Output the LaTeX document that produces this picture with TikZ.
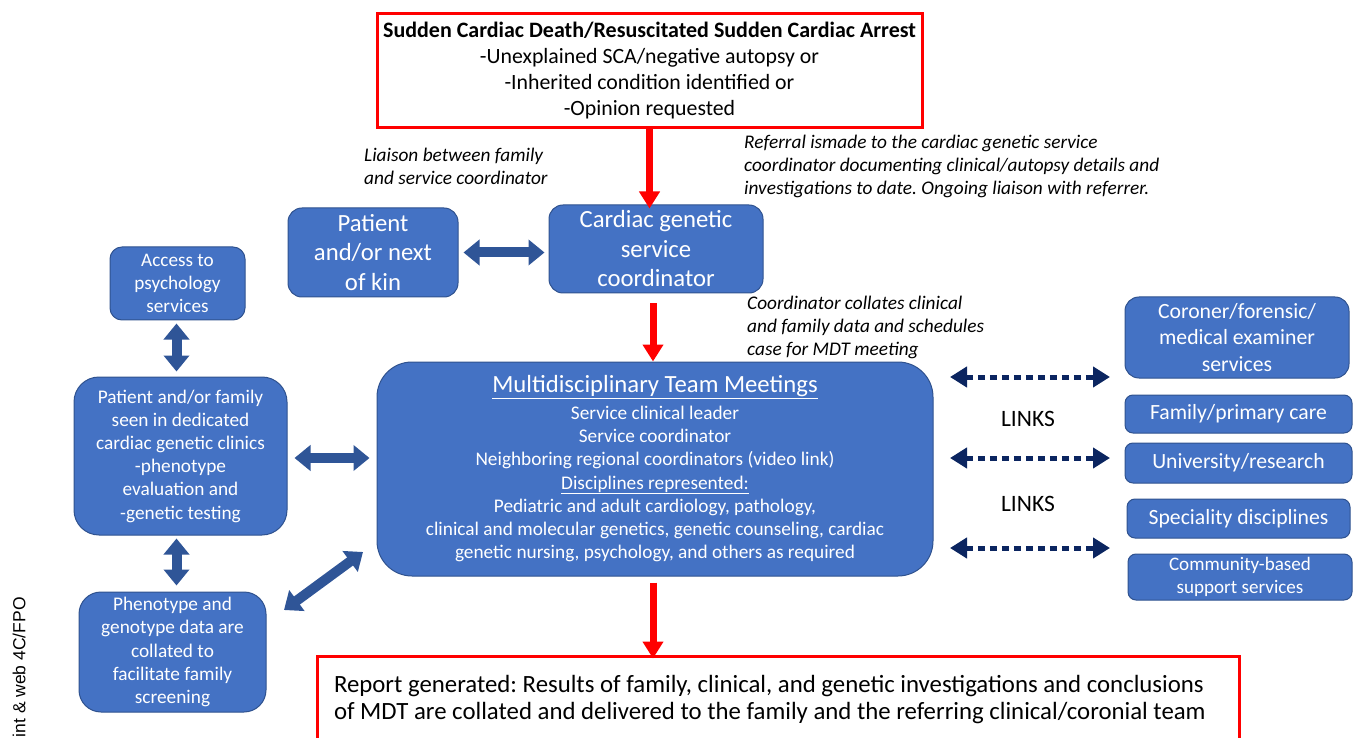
\documentclass[tikz,border=0pt]{standalone}
\usepackage{fontspec}
\setmainfont{Carlito}
\newfontfamily\sidefont{Liberation Sans}
\usetikzlibrary{arrows.meta}
\definecolor{boxc}{HTML}{4472C4}
\definecolor{bordc}{HTML}{2F528F}
\definecolor{arrc}{HTML}{2F5597}
\definecolor{navyc}{HTML}{0B2560}
\newcommand{\fsz}[2]{\fontsize{#1}{#2}\selectfont}
\begin{document}
\frenchspacing
\begin{tikzpicture}[x=1pt,y=-1pt,
  bbox/.style={draw=bordc, fill=boxc, text=white, align=center, line width=1pt, inner sep=0pt, rounded corners=#1},
  bbox/.default=12pt,
  redbox/.style={draw=red, line width=3pt, inner sep=0pt},
  redarrow/.style={draw=red, line width=7pt, -{Triangle[length=17pt,width=20pt]}},
  bluearrow/.style={draw=arrc, line width=10pt, {Triangle[length=16pt,width=25pt]}-{Triangle[length=16pt,width=25pt]}},
  dotarrow/.style={draw=navyc, line width=5pt, dash pattern=on 7.5pt off 4.5pt, {Triangle[length=17pt,width=20pt]}-{Triangle[length=17pt,width=20pt]}},
  note/.style={font=\fsz{19.3}{23}\itshape, align=left, inner sep=0pt, anchor=west},
]
\useasboundingbox (0,0) rectangle (1353,738);
\clip (0,0) rectangle (1353,738);

% top red box
\node[redbox, minimum width=545pt, minimum height=114pt, align=center, font=\fsz{21.8}{26}] (top) at (649.5,71)
  {{\fsz{22}{26}\textbf{Sudden Cardiac Death/Resuscitated Sudden Cardiac Arrest}}\\-Unexplained SCA/negative autopsy or\\-Inherited condition identified or\\-Opinion requested};

% notes
\node[note] (liaison) at (364,166) {Liaison between family\\and service coordinator};
\node[note] (referral) at (744,166) {Referral ismade to the cardiac genetic service\\coordinator documenting clinical/autopsy details and\\investigations to date. Ongoing liaison with referrer.};
\node[note] (collates) at (747,327) {Coordinator collates clinical\\and family data and schedules\\case for MDT meeting};

% upper boxes
\node[bbox=14pt, minimum width=170pt, minimum height=89pt, font=\fsz{24.7}{29.5}] (pk) at (373,252.5) {Patient\\and/or next\\of kin};
\node[bbox=14pt, minimum width=214pt, minimum height=88pt, font=\fsz{24.7}{29.5}] (coord) at (656,249) {Cardiac genetic\\service\\coordinator};

% MDT
\node[bbox=35pt, minimum width=556pt, minimum height=214pt, font=\fsz{19.3}{23.3}] (mdt) at (655,469)
  {{\fsz{24.7}{26}\underline{Multidisciplinary Team Meetings}}\\[3pt]
   Service clinical leader\\Service coordinator\\Neighboring regional coordinators (video link)\\
   \underline{Disciplines represented:}\\Pediatric and adult cardiology, pathology,\\
   clinical and molecular genetics, genetic counseling, cardiac\\genetic nursing, psychology, and others as required};

% left boxes
\node[bbox=12pt, minimum width=135pt, minimum height=73pt, font=\fsz{19.2}{23}] (access) at (177.5,283.5) {Access to\\psychology\\services};
\node[bbox=25pt, minimum width=213pt, minimum height=158pt, font=\fsz{19.3}{23.2}] (pfam) at (180.5,456)
  {Patient and/or family\\seen in dedicated\\cardiac genetic clinics\\-phenotype\\evaluation and\\-genetic testing};
\node[bbox=22pt, minimum width=187pt, minimum height=120pt, font=\fsz{19.3}{23.2}] (pheno) at (172.5,652)
  {Phenotype and\\genotype data are\\collated to\\facilitate family\\screening};

% right boxes
\node[bbox=14pt, minimum width=224pt, minimum height=81pt, font=\fsz{21.7}{26.5}] (coroner) at (1237,337.5) {Coroner/forensic/\\medical examiner\\services};
\node[bbox=8pt, minimum width=227pt, minimum height=38pt, font=\fsz{21.7}{24}] (primary) at (1238.5,414) {Family/primary care};
\node[bbox=8pt, minimum width=227pt, minimum height=40pt, font=\fsz{21.7}{24}] (univ) at (1238.5,463) {University/research};
\node[bbox=8pt, minimum width=223pt, minimum height=39pt, font=\fsz{21.7}{24}] (spec) at (1238.5,518.5) {Speciality disciplines};
\node[bbox=8pt, minimum width=224pt, minimum height=46pt, font=\fsz{19.1}{23}] (comm) at (1240,577) {Community-based\\support services};

% LINKS labels
\node[font=\fsz{23.5}{26}, inner sep=0pt] (links1) at (1028,419) {LINKS};
\node[font=\fsz{23.5}{26}, inner sep=0pt] (links2) at (1028,504) {LINKS};

% report box
\node[redbox, minimum width=922pt, minimum height=87pt, text width=888pt, inner xsep=17pt, align=flush left, font=\fsz{24.8}{27}] (report) at (778,699.5)
  {Report generated: Results of family, clinical, and genetic investigations and conclusions\\of MDT are collated and delivered to the family and the referring clinical/coronial team};

% side text
\node[rotate=90, anchor=east, inner sep=0pt, font=\sidefont\fsz{17.5}{20}] (side) at (19,597) {int \& web 4C/FPO};

% red arrows
\draw[redarrow] (top.south) -- ([yshift=-4pt]top.south |- coord.north);
\draw[redarrow, shorten <=10pt] ([xshift=-3pt]coord.south) -- ([xshift=-3pt]coord.south |- mdt.north);
\draw[redarrow, shorten <=6pt] ([xshift=-2pt]mdt.south) -- ([xshift=-2pt,yshift=-4pt]mdt.south |- report.north);

% blue double arrows
\draw[bluearrow, shorten <=5pt, shorten >=4pt] (pk.east) -- (pk.east -| coord.west);
\draw[bluearrow, shorten <=3pt, shorten >=5pt] ([xshift=-1pt]access.south) -- ([xshift=-1pt]access.south |- pfam.north);
\draw[bluearrow, shorten <=3pt, shorten >=6pt] ([xshift=-4pt]pfam.south) -- ([xshift=-4pt]pfam.south |- pheno.north);
\draw[bluearrow, shorten <=7pt, shorten >=7pt] ([yshift=-2pt]pfam.east) -- ([yshift=-2pt]pfam.east -| mdt.west);
\coordinate (d1) at (284,610);
\coordinate (d2) at (363,552);
\draw[bluearrow] (d1) -- (d2);

% dotted link arrows
\coordinate (la1) at (950,377); \coordinate (lb1) at (1110,377);
\coordinate (la2) at (950,458); \coordinate (lb2) at (1110,458);
\coordinate (la3) at (950,548); \coordinate (lb3) at (1110,548);
\draw[dotarrow] (la1) -- (lb1);
\draw[dotarrow] (la2) -- (lb2);
\draw[dotarrow] (la3) -- (lb3);
\end{tikzpicture}
\end{document}
